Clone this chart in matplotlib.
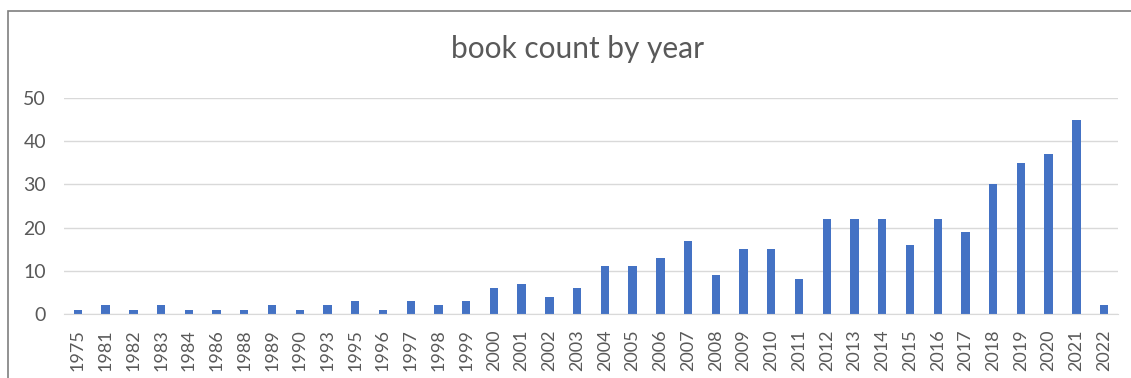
import matplotlib.pyplot as plt
import numpy as np
from matplotlib.patches import Rectangle

years = ["1975", "1981", "1982", "1983", "1984", "1986", "1988", "1989", "1990",
         "1993", "1995", "1996", "1997", "1998", "1999", "2000", "2001", "2002",
         "2003", "2004", "2005", "2006", "2007", "2008", "2009", "2010", "2011",
         "2012", "2013", "2014", "2015", "2016", "2017", "2018", "2019", "2020",
         "2021", "2022"]
counts = [1, 2, 1, 2, 1, 1, 1, 2, 1, 2, 3, 1, 3, 2, 3, 6, 7, 4, 6, 11, 11, 13,
          17, 9, 15, 15, 8, 22, 22, 22, 16, 22, 19, 30, 35, 37, 45, 2]
y_ticks = [0, 10, 20, 30, 40, 50]

plt.rcParams["font.family"] = ["Lato", "DejaVu Sans"]
text_color = "#595959"
grid_color = "#d9d9d9"

W, H = 1131, 378
fig = plt.figure(figsize=(W / 100, H / 100), dpi=100)
ax = fig.add_axes([64 / W, 1 - 314 / H, (1118 - 64) / W, (314 - 98) / H])

x = np.arange(len(years))
ax.bar(x, counts, width=0.3, color="#4472C4", zorder=3)

ax.set_xlim(-0.5, len(years) - 0.5)
ax.set_ylim(0, 50)
ax.set_yticks(y_ticks)
ax.set_xticks(x)
ax.set_xticklabels(years, rotation=90)
ax.tick_params(axis="both", length=0, colors=text_color)
ax.tick_params(axis="y", labelsize=14, pad=13)
ax.tick_params(axis="x", labelsize=13, pad=11)
ax.grid(axis="y", color=grid_color, linewidth=1, zorder=0)
for side in ["top", "right", "left"]:
    ax.spines[side].set_visible(False)
ax.spines["bottom"].set_color(grid_color)
ax.spines["bottom"].set_zorder(4)

fig.text(578 / W, 1 - 49 / H, "book count by year", ha="center", va="center",
         fontsize=21.5, color=text_color)

# outer chart frame (left and top edges visible in the crop)
fig.add_artist(Rectangle((8 / W, -0.1), 1.2, 1.1 - 11 / H, transform=fig.transFigure,
                         fill=False, edgecolor="#7f7f7f", linewidth=1.2))

fig.savefig("out.png", dpi=100)
